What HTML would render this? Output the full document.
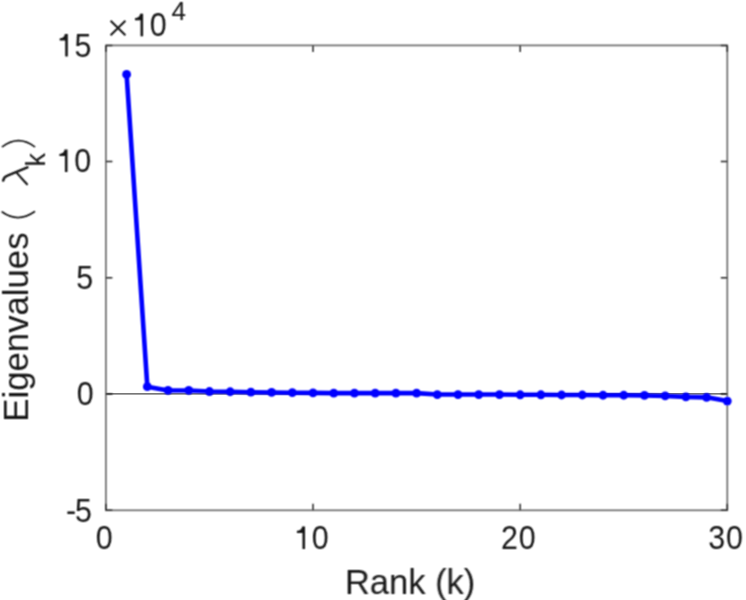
<!DOCTYPE html>
<html><head><meta charset="utf-8"><style>
html,body{margin:0;padding:0;background:#fff;}
body{width:746px;height:600px;overflow:hidden;}
svg{display:block;will-change:transform;font-family:"Liberation Sans",sans-serif;}
</style></head><body>
<svg width="746" height="600" viewBox="0 0 746 600">
<defs><filter id="b" x="-5%" y="-5%" width="110%" height="110%"><feConvolveMatrix order="3" kernelMatrix="1 2 1 2 4 2 1 2 1" divisor="16" edgeMode="none"/></filter></defs>
<rect width="746" height="600" fill="#fff"/>
<line x1="105.9" y1="393.9" x2="727.3" y2="393.9" stroke="#4a4a4a" stroke-width="1.3"/>
<g filter="url(#b)">
<rect x="105.9" y="45.4" width="621.40" height="464.90" fill="none" stroke="#6e6e6e" stroke-width="1.7"/>
<path d="M105.90,510.30h6.5M727.30,510.30h-6.5M105.90,394.08h6.5M727.30,394.08h-6.5M105.90,277.85h6.5M727.30,277.85h-6.5M105.90,161.62h6.5M727.30,161.62h-6.5M105.90,45.40h6.5M727.30,45.40h-6.5M105.90,510.30v-6.5M105.90,45.40v6.5M313.03,510.30v-6.5M313.03,45.40v6.5M520.17,510.30v-6.5M520.17,45.40v6.5M727.30,510.30v-6.5M727.30,45.40v6.5" stroke="#262626" stroke-width="1.5" fill="none"/>
<path d="M126.61,74.46 L147.33,386.64 L168.04,390.47 L188.75,390.47 L209.47,391.52 L230.18,391.75 L250.89,392.22 L271.61,392.45 L292.32,392.68 L313.03,392.91 L333.75,393.15 L354.46,393.15 L375.17,393.15 L395.89,393.15 L416.60,393.15 L437.31,394.54 L458.03,394.54 L478.74,394.54 L499.45,394.54 L520.17,394.77 L540.88,394.77 L561.59,395.00 L582.31,395.00 L603.02,395.24 L623.73,395.24 L644.45,395.47 L665.16,395.93 L685.87,396.86 L706.59,397.33 L727.30,401.05" fill="none" stroke="#0000ff" stroke-width="4.6" stroke-linejoin="round"/>
<g fill="#0000ff">
<circle cx="126.61" cy="74.46" r="4.4"/>
<circle cx="147.33" cy="386.64" r="4.4"/>
<circle cx="168.04" cy="390.47" r="4.4"/>
<circle cx="188.75" cy="390.47" r="4.4"/>
<circle cx="209.47" cy="391.52" r="4.4"/>
<circle cx="230.18" cy="391.75" r="4.4"/>
<circle cx="250.89" cy="392.22" r="4.4"/>
<circle cx="271.61" cy="392.45" r="4.4"/>
<circle cx="292.32" cy="392.68" r="4.4"/>
<circle cx="313.03" cy="392.91" r="4.4"/>
<circle cx="333.75" cy="393.15" r="4.4"/>
<circle cx="354.46" cy="393.15" r="4.4"/>
<circle cx="375.17" cy="393.15" r="4.4"/>
<circle cx="395.89" cy="393.15" r="4.4"/>
<circle cx="416.60" cy="393.15" r="4.4"/>
<circle cx="437.31" cy="394.54" r="4.4"/>
<circle cx="458.03" cy="394.54" r="4.4"/>
<circle cx="478.74" cy="394.54" r="4.4"/>
<circle cx="499.45" cy="394.54" r="4.4"/>
<circle cx="520.17" cy="394.77" r="4.4"/>
<circle cx="540.88" cy="394.77" r="4.4"/>
<circle cx="561.59" cy="395.00" r="4.4"/>
<circle cx="582.31" cy="395.00" r="4.4"/>
<circle cx="603.02" cy="395.24" r="4.4"/>
<circle cx="623.73" cy="395.24" r="4.4"/>
<circle cx="644.45" cy="395.47" r="4.4"/>
<circle cx="665.16" cy="395.93" r="4.4"/>
<circle cx="685.87" cy="396.86" r="4.4"/>
<circle cx="706.59" cy="397.33" r="4.4"/>
<circle cx="727.30" cy="401.05" r="4.4"/>
</g>
<g fill="#141414" font-size="32">
<text transform="translate(70.98,521.50) scale(0.95,1.05)" text-anchor="middle" font-size="32">-</text><text transform="translate(83.50,521.50) scale(0.95,1.05)" text-anchor="middle" font-size="32">5</text>
<text transform="translate(85.30,404.98) scale(0.95,1.05)" text-anchor="middle" font-size="32">0</text>
<text transform="translate(84.70,288.75) scale(0.95,1.05)" text-anchor="middle" font-size="32">5</text>
<path transform="translate(55.92,172.02) scale(0.0320,-0.0320)" d="M362,703 L362,0 L282,0 L282,500 L109,500 L109,565 C190,572 255,600 270,703 Z"/><text transform="translate(82.60,172.02) scale(0.95,1.05)" text-anchor="middle" font-size="32">0</text>
<path transform="translate(56.22,56.60) scale(0.0320,-0.0320)" d="M362,703 L362,0 L282,0 L282,500 L109,500 L109,565 C190,572 255,600 270,703 Z"/><text transform="translate(82.90,56.60) scale(0.95,1.05)" text-anchor="middle" font-size="32">5</text>
<text transform="translate(104.10,548.90) scale(0.95,1.05)" text-anchor="middle" font-size="32">0</text>
<path transform="translate(293.44,548.90) scale(0.0320,-0.0320)" d="M362,703 L362,0 L282,0 L282,500 L109,500 L109,565 C190,572 255,600 270,703 Z"/><text transform="translate(320.13,548.90) scale(0.95,1.05)" text-anchor="middle" font-size="32">0</text>
<text transform="translate(509.47,548.90) scale(0.95,1.05)" text-anchor="middle" font-size="32">2</text><text transform="translate(527.26,548.90) scale(0.95,1.05)" text-anchor="middle" font-size="32">0</text>
<text transform="translate(716.60,548.90) scale(0.95,1.05)" text-anchor="middle" font-size="32">3</text><text transform="translate(734.40,548.90) scale(0.95,1.05)" text-anchor="middle" font-size="32">0</text>
<path d="M110.6,20.8 L125.4,35.2 M125.4,20.8 L110.6,35.2" stroke="#141414" stroke-width="1.9" fill="none"/>
<path transform="translate(131.50,36.30) scale(0.0320,-0.0320)" d="M362,703 L362,0 L282,0 L282,500 L109,500 L109,565 C190,572 255,600 270,703 Z"/><text transform="translate(158.19,36.30) scale(0.95,1.05)" text-anchor="middle" font-size="32">0</text>
<text x="171.5" y="20" font-size="26">4</text>
</g>
<g fill="#141414" font-size="35">
<text transform="translate(344.9,594) scale(0.986,1)">Rank (k)</text>
<g transform="translate(27.5,421.7) rotate(-90)">
<text transform="translate(0,0) scale(0.993,1)">Eigenvalues</text>
<text x="255.1" y="17" font-size="27">k</text>
</g>
</g>
<g stroke="#141414" fill="none" stroke-linecap="round">
<path d="M2.2,212.0 Q18,223.2 34.4,211.7" stroke-width="1.7"/>
<path d="M2.5,146.6 Q18.5,134.6 34.5,146.6" stroke-width="1.7"/>
<path d="M3.2,180.6 Q3.8,176.8 7.5,175.6 L27.4,167.4" stroke-width="2.5"/>
<path d="M17.2,173.4 L27,184.2" stroke-width="2.1"/>
</g>
</g>
</svg>
</body></html>
